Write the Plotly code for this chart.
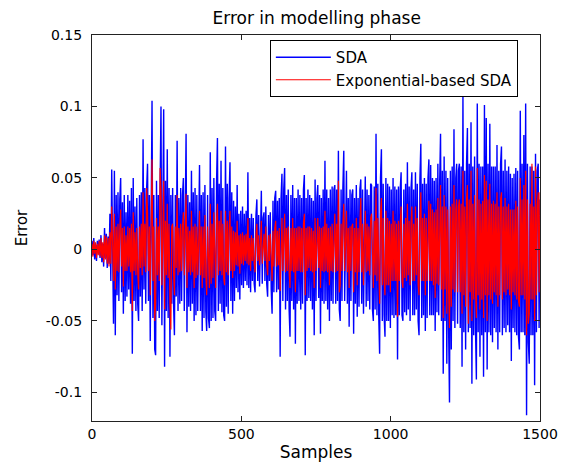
import plotly.graph_objects as go

samples = list(range(0, 1501, 3))

sda_error = [
    0.006, -0.004, 0.008, -0.007, 0.003, -0.008, 0.006, -0.002, 0.007, -0.006,
    0.010, -0.009, 0.004, -0.012, 0.015, -0.006, 0.011, -0.013, 0.009, -0.010,
    0.025, -0.022, 0.056, -0.034, -0.052, 0.055, -0.060, 0.038, -0.032, 0.040,
    -0.036, 0.035, 0.050, -0.030, 0.033, -0.045, 0.038, -0.036, 0.026, -0.033,
    0.038, -0.028, 0.034, -0.038, 0.043, -0.073, 0.050, -0.036, 0.030, -0.043,
    0.036, -0.038, -0.050, 0.038, -0.033, 0.040, -0.043, 0.077, -0.028, 0.043,
    -0.038, 0.043, 0.060, -0.036, 0.038, -0.064, 0.043, 0.104, -0.048, 0.038,
    -0.070, -0.074, 0.048, -0.043, 0.038, -0.048, 0.043, 0.100, -0.053, 0.046,
    0.098, -0.082, 0.048, -0.043, 0.070, -0.048, 0.043, -0.075, 0.038, -0.038,
    0.043, -0.038, -0.060, 0.038, -0.033, 0.076, -0.043, 0.036, -0.038, 0.043,
    -0.036, 0.038, 0.050, -0.043, 0.036, 0.081, -0.058, 0.038, -0.040, 0.033,
    -0.043, 0.055, -0.038, 0.040, -0.050, 0.043, -0.046, 0.038, -0.043, 0.036,
    0.059, -0.043, 0.038, -0.057, 0.040, -0.048, 0.045, -0.043, -0.057, 0.038,
    -0.048, -0.055, 0.068, -0.050, 0.043, -0.048, 0.050, -0.043, -0.050, 0.046,
    0.078, -0.043, 0.046, -0.038, 0.062, -0.044, 0.043, -0.046, -0.050, 0.072,
    -0.040, 0.046, -0.045, 0.036, 0.061, -0.036, 0.040, -0.045, 0.034, -0.036,
    0.030, -0.027, 0.045, -0.030, 0.025, -0.035, 0.027, -0.025, 0.030, -0.027,
    0.025, -0.022, 0.027, -0.025, 0.054, -0.027, 0.022, -0.030, 0.025, -0.022,
    0.022, -0.024, -0.030, 0.024, 0.035, -0.022, 0.024, -0.026, 0.020, 0.041,
    -0.024, 0.022, 0.026, -0.022, 0.030, -0.024, -0.033, 0.024, -0.022, 0.026,
    -0.028, -0.045, 0.034, -0.030, 0.036, 0.041, -0.030, 0.034, -0.028, 0.036,
    -0.075, 0.036, 0.053, -0.036, 0.042, 0.057, -0.042, 0.038, -0.036, 0.042,
    -0.042, -0.061, 0.038, -0.036, 0.045, -0.042, 0.036, -0.066, 0.036, -0.038,
    0.042, -0.036, 0.038, -0.042, 0.036, -0.038, 0.042, 0.052, -0.074, 0.036,
    -0.036, 0.042, -0.034, 0.038, -0.036, 0.036, -0.042, 0.034, -0.060, 0.049,
    -0.036, 0.036, 0.045, -0.034, 0.038, -0.059, 0.036, -0.036, 0.042, -0.038,
    0.062, -0.036, 0.042, -0.042, 0.036, -0.050, 0.042, -0.036, 0.044, -0.038,
    0.042, 0.045, -0.038, 0.042, -0.036, 0.069, -0.042, -0.050, 0.042, -0.036,
    0.043, 0.069, -0.036, 0.042, 0.055, -0.038, 0.036, -0.054, 0.042, -0.036,
    0.038, 0.042, -0.059, 0.036, -0.038, 0.045, -0.047, 0.036, -0.040, 0.042,
    0.049, -0.038, 0.042, -0.045, 0.036, 0.051, -0.040, 0.042, -0.036, 0.038,
    -0.042, 0.046, 0.045, -0.042, -0.050, 0.044, -0.042, 0.081, -0.046, 0.046,
    -0.046, -0.073, 0.050, 0.070, -0.050, 0.046, -0.046, -0.061, 0.050, -0.050,
    0.046, -0.050, 0.044, -0.055, 0.042, -0.046, 0.050, -0.048, 0.044, -0.046,
    0.042, -0.077, 0.044, -0.046, 0.042, 0.054, -0.046, -0.050, 0.042, -0.044,
    0.046, -0.046, 0.061, -0.042, 0.044, -0.050, 0.042, 0.054, -0.046, 0.042,
    -0.046, 0.054, -0.042, 0.046, -0.050, -0.060, 0.050, 0.074, -0.048, 0.046,
    -0.046, 0.050, -0.057, 0.046, -0.048, 0.050, 0.063, -0.046, 0.059, -0.046,
    0.050, -0.046, 0.048, -0.057, 0.050, -0.044, 0.060, -0.046, 0.046, 0.081,
    -0.050, 0.055, -0.087, 0.065, -0.050, 0.055, -0.080, 0.050, -0.055, -0.107,
    0.055, -0.070, 0.058, -0.050, 0.084, -0.055, 0.050, 0.060, -0.052, 0.055,
    0.060, -0.055, 0.058, -0.082, 0.109, -0.058, 0.055, -0.070, 0.060, 0.085,
    -0.058, 0.060, -0.055, 0.089, -0.094, 0.058, -0.060, 0.065, -0.055, -0.091,
    0.102, -0.058, 0.060, -0.075, 0.058, -0.060, 0.058, -0.089, 0.101, -0.058,
    0.092, -0.084, 0.060, -0.058, 0.088, -0.060, 0.058, -0.065, 0.058, -0.055,
    0.058, -0.058, 0.073, -0.070, 0.055, -0.058, 0.060, 0.072, -0.060, 0.055,
    -0.055, 0.063, -0.058, 0.055, -0.053, 0.058, -0.058, 0.053, -0.078, 0.050,
    -0.055, 0.053, -0.058, 0.057, -0.060, 0.055, -0.061, -0.070, 0.097, -0.058,
    0.060, -0.058, 0.080, -0.060, 0.102, -0.116, 0.060, -0.065, -0.080, 0.058,
    -0.060, 0.058, -0.060, 0.055, -0.095, 0.067, -0.058, 0.055, 0.060, -0.055,
    0.035,
]

exp_sda_error = [
    0.004, -0.005, 0.006, -0.003, 0.005, -0.006, 0.004, -0.004, 0.006, -0.005,
    0.008, -0.006, 0.005, -0.009, 0.010, -0.007, 0.009, -0.010, 0.008, -0.012,
    0.012, -0.010, 0.030, -0.015, -0.022, 0.025, -0.028, 0.016, -0.015, 0.018,
    -0.016, 0.015, 0.028, -0.012, 0.015, -0.026, 0.016, -0.015, 0.010, -0.015,
    0.016, -0.012, 0.015, -0.016, 0.018, -0.043, 0.026, -0.015, 0.012, -0.018,
    0.015, -0.016, -0.028, 0.016, -0.013, 0.018, -0.018, 0.040, -0.012, 0.018,
    -0.016, 0.043, 0.026, -0.015, 0.016, -0.032, 0.018, 0.063, -0.022, 0.016,
    -0.050, -0.038, 0.022, -0.018, 0.016, -0.022, 0.057, 0.042, -0.025, 0.020,
    0.048, -0.042, 0.020, -0.018, 0.032, -0.020, 0.018, -0.038, -0.056, 0.016,
    0.018, -0.016, -0.032, 0.016, -0.013, 0.038, -0.018, 0.015, -0.016, 0.018,
    -0.015, 0.016, 0.026, -0.018, 0.015, 0.039, -0.027, 0.016, -0.016, 0.013,
    -0.018, 0.027, -0.016, 0.016, -0.027, 0.018, -0.020, 0.016, -0.018, 0.015,
    0.027, -0.018, 0.016, -0.027, 0.016, -0.020, 0.024, -0.018, -0.032, 0.016,
    -0.020, -0.027, 0.032, -0.024, 0.018, -0.020, 0.026, -0.018, -0.027, 0.020,
    0.032, -0.018, 0.020, -0.015, 0.027, -0.018, 0.018, -0.020, -0.025, 0.027,
    -0.016, 0.020, -0.018, 0.015, 0.027, -0.015, 0.016, -0.020, 0.013, -0.015,
    0.012, -0.011, 0.020, -0.012, 0.010, -0.017, 0.011, -0.010, 0.012, -0.011,
    0.010, -0.008, 0.011, -0.010, 0.022, -0.011, 0.008, -0.015, 0.010, -0.008,
    0.008, -0.010, -0.016, 0.010, 0.018, -0.008, 0.010, -0.011, 0.008, 0.020,
    -0.010, 0.008, 0.011, -0.008, 0.016, -0.010, -0.018, 0.010, -0.008, 0.011,
    -0.011, -0.022, 0.013, -0.012, 0.015, 0.020, -0.012, 0.013, -0.011, 0.015,
    -0.029, 0.015, 0.022, -0.015, 0.016, 0.025, -0.016, 0.015, -0.015, 0.016,
    -0.016, -0.027, 0.015, -0.015, 0.022, -0.016, 0.015, -0.030, 0.015, -0.015,
    0.016, -0.015, 0.016, -0.016, 0.015, -0.016, 0.018, 0.025, -0.032, 0.015,
    -0.015, 0.016, -0.013, 0.016, -0.015, 0.015, -0.016, 0.013, -0.027, 0.022,
    -0.015, 0.015, 0.022, -0.013, 0.016, -0.027, 0.015, -0.015, 0.016, -0.016,
    0.027, -0.015, 0.018, -0.016, 0.015, -0.025, 0.016, -0.015, 0.018, -0.016,
    0.018, 0.025, -0.016, 0.018, -0.015, 0.048, -0.030, -0.025, 0.018, -0.015,
    0.018, 0.032, -0.015, 0.018, 0.027, -0.016, 0.015, -0.027, 0.016, -0.015,
    0.016, 0.018, -0.030, 0.015, -0.016, 0.022, -0.025, 0.015, -0.016, 0.018,
    0.036, -0.016, 0.018, -0.025, 0.015, 0.027, -0.016, 0.018, -0.015, 0.016,
    -0.018, 0.022, 0.025, -0.018, -0.027, 0.020, -0.018, 0.043, -0.022, 0.022,
    -0.022, -0.038, 0.025, 0.036, -0.025, 0.022, -0.022, -0.032, 0.027, -0.025,
    0.022, -0.025, 0.020, -0.030, 0.018, -0.022, 0.027, -0.022, 0.020, -0.022,
    0.018, -0.047, 0.020, -0.022, 0.018, 0.030, -0.022, -0.027, 0.018, -0.020,
    0.022, -0.022, 0.032, -0.018, 0.020, -0.025, 0.018, 0.030, -0.022, 0.018,
    -0.022, 0.030, -0.018, 0.022, -0.025, -0.032, 0.025, 0.040, -0.022, 0.022,
    -0.022, 0.025, -0.032, 0.022, -0.022, 0.025, 0.034, -0.022, 0.032, -0.022,
    0.028, -0.025, 0.026, -0.034, 0.028, -0.024, 0.036, -0.025, 0.025, 0.045,
    -0.028, 0.030, -0.048, 0.038, -0.028, 0.030, -0.045, 0.028, -0.030, -0.055,
    0.030, -0.040, 0.032, -0.028, 0.045, -0.030, 0.028, 0.035, -0.030, 0.030,
    0.035, -0.030, 0.032, -0.045, 0.055, -0.032, 0.030, -0.040, 0.035, 0.045,
    -0.052, 0.035, -0.030, 0.055, -0.050, 0.032, -0.035, 0.038, -0.030, -0.048,
    0.057, -0.032, 0.035, -0.042, 0.032, -0.035, 0.034, -0.048, 0.052, -0.032,
    0.048, -0.050, 0.035, -0.032, 0.046, -0.035, 0.032, -0.038, 0.034, -0.030,
    0.032, -0.032, 0.040, -0.040, 0.030, -0.032, 0.035, 0.040, -0.035, 0.030,
    -0.030, 0.036, -0.032, 0.030, -0.028, 0.032, -0.032, 0.028, -0.042, 0.028,
    -0.030, 0.028, -0.032, 0.034, -0.035, 0.030, -0.036, -0.040, 0.050, -0.032,
    0.035, -0.032, 0.045, -0.035, 0.055, -0.060, 0.035, -0.052, -0.045, 0.032,
    -0.035, 0.060, -0.035, 0.030, -0.050, 0.058, -0.032, 0.030, 0.040, -0.030,
    0.040,
]

y_tick_vals = [-0.1, -0.05, 0, 0.05, 0.1, 0.15]
y_tick_text = ["-0.1", "-0.05", "0", "0.05", "0.1", "0.15"]
x_tick_vals = [0, 500, 1000, 1500]

FONT = "DejaVu Sans, Liberation Sans, sans-serif"

fig = go.Figure()
fig.add_trace(go.Scatter(x=samples, y=sda_error, mode="lines", name="SDA",
                         line=dict(color="#0000ff", width=1.4)))
fig.add_trace(go.Scatter(x=samples, y=exp_sda_error, mode="lines",
                         name="Exponential-based SDA",
                         line=dict(color="#ff0000", width=1.2)))

axis_common = dict(showline=True, linecolor="#222222", linewidth=1.3, mirror="ticks",
                   ticks="inside", ticklen=5, tickcolor="#222222", showgrid=False,
                   zeroline=False, automargin=False,
                   tickfont=dict(family=FONT, size=14, color="black"))

fig.update_layout(
    width=563, height=464,
    margin=dict(l=92, r=23, t=35, b=43),
    paper_bgcolor="white", plot_bgcolor="white",
    font=dict(family=FONT, size=14, color="black"),
    title=dict(text="Error in modelling phase", x=0.5625, xanchor="center",
               y=0.962, yanchor="middle", font=dict(family=FONT, size=17)),
    xaxis=dict(range=[0, 1500], tickvals=x_tick_vals, ticklabelstandoff=0,
               title=dict(text="Samples", font=dict(family=FONT, size=17), standoff=5),
               **axis_common),
    yaxis=dict(range=[-0.12, 0.15], tickvals=y_tick_vals, ticktext=y_tick_text,
               ticklabelstandoff=6,
               title=dict(text="Error", font=dict(family=FONT, size=15), standoff=14),
               **axis_common),
    legend=dict(x=0.397, y=0.987, xanchor="left", yanchor="top",
                bordercolor="black", borderwidth=1, bgcolor="white",
                font=dict(family=FONT, size=15), tracegroupgap=0, itemwidth=55),
    showlegend=True,
)

fig.write_html("out.html", config={"displayModeBar": False},
               post_script="document.body.style.margin='0';document.body.style.padding='0';")
